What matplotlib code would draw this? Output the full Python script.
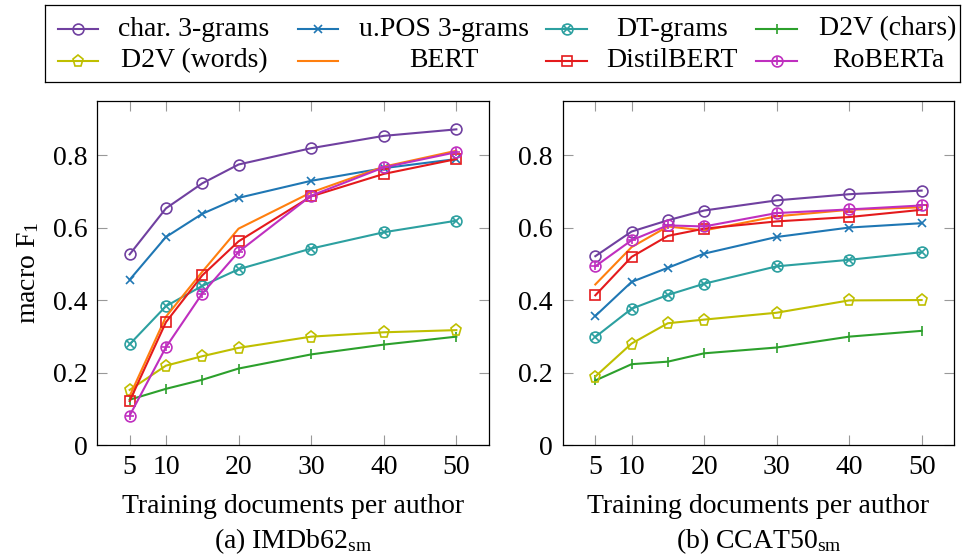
import matplotlib
matplotlib.use('Agg')
import matplotlib.pyplot as plt

plt.rcParams['font.family'] = ['Liberation Serif', 'DejaVu Serif']
plt.rcParams['mathtext.fontset'] = 'custom'
plt.rcParams['mathtext.rm'] = 'Liberation Serif'
plt.rcParams['mathtext.it'] = 'Liberation Serif:italic'
plt.rcParams['font.size'] = 20

docs = [5, 10, 15, 20, 30, 40, 50]
xtick_vals = [5, 10, 20, 30, 40, 50]
ytick_vals = [0, 0.2, 0.4, 0.6, 0.8]
ytick_labels = ['0', '0.2', '0.4', '0.6', '0.8']

names = ['char. 3-grams', 'u.POS 3-grams', 'DT-grams', 'D2V (chars)',
         'D2V (words)', 'BERT', 'DistilBERT', 'RoBERTa']

# IMDb62_sm
imdb_char = [0.526, 0.653, 0.722, 0.774, 0.819, 0.853, 0.871]
imdb_upos = [0.456, 0.574, 0.638, 0.682, 0.729, 0.764, 0.789]
imdb_dt = [0.278, 0.383, 0.439, 0.485, 0.542, 0.587, 0.619]
imdb_d2v_chars = [0.125, 0.155, 0.180, 0.211, 0.250, 0.277, 0.299]
imdb_d2v_words = [0.152, 0.219, 0.245, 0.268, 0.299, 0.311, 0.317]
imdb_bert = [0.135, 0.354, 0.478, 0.597, 0.697, 0.768, 0.812]
imdb_distil = [0.121, 0.339, 0.468, 0.562, 0.686, 0.748, 0.789]
imdb_roberta = [0.081, 0.270, 0.418, 0.533, 0.688, 0.766, 0.808]

# CCAT50_sm
ccat_char = [0.521, 0.589, 0.620, 0.647, 0.675, 0.692, 0.702]
ccat_upos = [0.356, 0.450, 0.489, 0.528, 0.574, 0.600, 0.612]
ccat_dt = [0.298, 0.376, 0.414, 0.445, 0.493, 0.511, 0.532]
ccat_d2v_chars = [0.178, 0.223, 0.230, 0.253, 0.269, 0.299, 0.315]
ccat_d2v_words = [0.189, 0.280, 0.336, 0.346, 0.365, 0.399, 0.400]
ccat_bert = [0.443, 0.546, 0.603, 0.592, 0.631, 0.649, 0.656]
ccat_distil = [0.413, 0.519, 0.577, 0.597, 0.617, 0.629, 0.649]
ccat_roberta = [0.493, 0.565, 0.606, 0.603, 0.640, 0.650, 0.661]

imdb = [imdb_char, imdb_upos, imdb_dt, imdb_d2v_chars,
        imdb_d2v_words, imdb_bert, imdb_distil, imdb_roberta]
ccat = [ccat_char, ccat_upos, ccat_dt, ccat_d2v_chars,
        ccat_d2v_words, ccat_bert, ccat_distil, ccat_roberta]

# colour, main marker, marker size, overlay marker (for otimes / oplus)
styles = [
    ('#7040a0', 'o', 7.8, None),
    ('#1f77b4', 'x', 5.5, None),
    ('#2ca0a0', 'o', 7.8, 'x'),
    ('#2ca02c', '|', 7, None),
    ('#bfbf00', 'p', 8.2, None),
    ('#ff7f0e', None, 0, None),
    ('#e41a1c', 's', 7.8, None),
    ('#bf2fbf', 'o', 7.8, '+'),
]


def draw(ax, x, y, style, lw=1.5):
    color, mk, ms, over = style
    ax.plot(x, y, color=color, lw=lw, marker=mk, ms=ms, mfc='none',
            mec=color, mew=1.2)
    if over:
        ax.plot(x, y, ls='none', marker=over, ms=ms * 0.72, mec=color, mew=1.2)


fig = plt.figure(figsize=(9.64, 5.58), dpi=100)
ax1 = fig.add_axes([0.1006, 0.2025, 0.4067, 0.617])
ax2 = fig.add_axes([0.5837, 0.2025, 0.4062, 0.617])

for ax, data, cap in [(ax1, imdb, r'(a) IMDb62$_{\mathrm{sm}}$'),
                      (ax2, ccat, r'(b) CCAT50$_{\mathrm{sm}}$')]:
    for vals, st in zip(data, styles):
        draw(ax, docs, vals, st)
    ax.set_xlim(0.5, 54.5)
    ax.set_ylim(0, 0.95)
    ax.set_xticks(xtick_vals)
    ax.set_yticks(ytick_vals)
    ax.set_yticklabels(ytick_labels)
    ax.tick_params(direction='in', length=7, width=0.8, color='#999999',
                   top=True, right=True, pad=7)
    for s in ax.spines.values():
        s.set_linewidth(0.9)
    ax.set_xlabel('Training documents per author', labelpad=10)
    pos = ax.get_position()
    fig.text((pos.x0 + pos.x1) / 2, 0.03, cap, ha='center', va='center')

ax1.set_ylabel(r'macro F$_1$', labelpad=8)

# legend drawn by hand so the labels are centred like in the pgfplots original
leg = fig.add_axes([45 / 964, 1 - 82 / 558, 915 / 964, 77 / 558])
leg.set_xlim(45, 960)
leg.set_ylim(82, 5)
leg.set_xticks([])
leg.set_yticks([])
for s in leg.spines.values():
    s.set_linewidth(0.9)

handle_x = [(58, 98), (298, 338), (546, 587), (756, 797)]
text_x = [194, 444, 672, 888]
rows = [29, 61]
for i, (name, st) in enumerate(zip(names, styles)):
    r, c = divmod(i, 4)
    x0, x1 = handle_x[c]
    leg.plot([x0, x1], [rows[r], rows[r]], color=st[0], lw=1.5)
    draw(leg, [(x0 + x1) / 2], [rows[r]], st)
    leg.text(text_x[c], rows[r], name, ha='center', va='center')

fig.savefig('out.png', dpi=100)
